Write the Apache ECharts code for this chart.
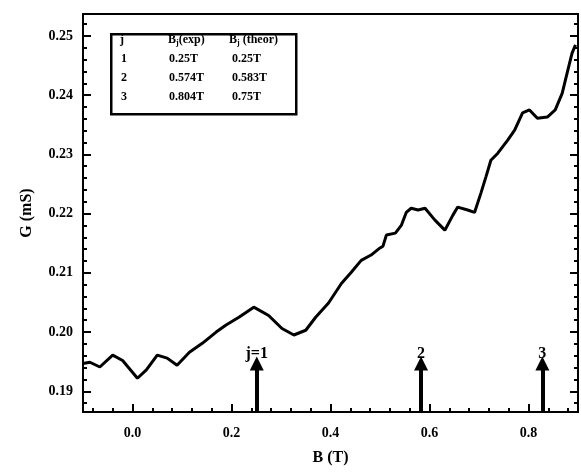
<!DOCTYPE html>
<html>
<head>
<meta charset="utf-8">
<script src="https://cdn.jsdelivr.net/npm/echarts@6/dist/echarts.min.js"></script>
<style>
  html, body { margin: 0; padding: 0; background: #fff; }
  #chart { width: 581px; height: 473px; }
</style>
</head>
<body>
<div id="chart"></div>
<script>
// traced curve: magnetic field B (T) and conductance G (mS)
const fieldB = [
  -0.100, -0.086, -0.066, -0.040, -0.020, 0.010, 0.028, 0.050, 0.070, 0.090,
  0.115, 0.141, 0.169, 0.189, 0.215, 0.245, 0.275, 0.302, 0.326, 0.350,
  0.370, 0.396, 0.422, 0.442, 0.462, 0.482, 0.500, 0.506, 0.513, 0.531,
  0.543, 0.553, 0.563, 0.577, 0.591, 0.611, 0.631, 0.647, 0.657, 0.677,
  0.691, 0.704, 0.714, 0.724, 0.738, 0.758, 0.772, 0.788, 0.802, 0.818,
  0.838, 0.854, 0.868, 0.878, 0.888, 0.895
];
const conductG = [
  0.1947, 0.1949, 0.1941, 0.1961, 0.1952, 0.1922, 0.1936, 0.1961, 0.1956, 0.1944,
  0.1966, 0.1981, 0.2000, 0.2012, 0.2025, 0.2042, 0.2028, 0.2006, 0.1995, 0.2003,
  0.2025, 0.2049, 0.2082, 0.2101, 0.2121, 0.2130, 0.2142, 0.2145, 0.2164, 0.2167,
  0.2180, 0.2202, 0.2209, 0.2206, 0.2209, 0.2189, 0.2172, 0.2197, 0.2211, 0.2206,
  0.2202, 0.2235, 0.2262, 0.2290, 0.2302, 0.2324, 0.2341, 0.2370, 0.2375, 0.2361,
  0.2363, 0.2375, 0.2403, 0.2437, 0.2471, 0.2485
];

// arrows marking B_j
const arrowB = [0.251, 0.583, 0.828];
const arrowLabels = ['j=1', '2', '3'];
const arrowTipG = 0.1947;

// axis ticks
const xMajor = [0.0, 0.2, 0.4, 0.6, 0.8];
const xMinor = [-0.08, -0.04, 0.04, 0.08, 0.12, 0.16, 0.24, 0.28, 0.32, 0.36,
  0.44, 0.48, 0.52, 0.56, 0.64, 0.68, 0.72, 0.76, 0.84, 0.88];
const yMajor = [0.19, 0.20, 0.21, 0.22, 0.23, 0.24, 0.25];
const yMinor = [0.188, 0.192, 0.194, 0.196, 0.198, 0.202, 0.204, 0.206, 0.208,
  0.212, 0.214, 0.216, 0.218, 0.222, 0.224, 0.226, 0.228, 0.232, 0.234, 0.236,
  0.238, 0.242, 0.244, 0.246, 0.248, 0.252];

// inset table
const tableJ = ['1', '2', '3'];
const tableExp = ['0.25T', '0.574T', '0.804T'];
const tableTheor = ['0.25T', '0.583T', '0.75T'];

const X_MIN = -0.1, X_MAX = 0.9;
const Y_MIN = 0.1865, Y_MAX = 0.2537;
const FONT = 'Liberation Serif';

const chart = echarts.init(document.getElementById('chart'));

const tickAxis = (type, pos, values, len, labels) => ({
  type: 'value',
  position: pos,
  min: type === 'x' ? X_MIN : Y_MIN,
  max: type === 'x' ? X_MAX : Y_MAX,
  axisLine: { show: labels, onZero: false, lineStyle: { color: '#000', width: 2 } },
  axisTick: { show: true, inside: true, length: len, customValues: values,
    lineStyle: { color: '#000', width: 2 } },
  axisLabel: labels ? {
    show: true,
    customValues: values,
    color: '#000',
    fontFamily: FONT,
    fontWeight: 'bold',
    fontSize: 14,
    margin: type === 'x' ? 14 : 10,
    formatter: v => type === 'x' ? v.toFixed(1) : v.toFixed(2)
  } : { show: false },
  splitLine: { show: false }
});

const xMain = tickAxis('x', 'bottom', xMajor, 8, true);
xMain.name = 'B (T)';
xMain.nameLocation = 'middle';
xMain.nameGap = 38;
xMain.nameTextStyle = { fontFamily: FONT, fontWeight: 'bold', fontSize: 16, color: '#000' };

const yMain = tickAxis('y', 'left', yMajor, 8, true);
yMain.name = 'G (mS)';
yMain.nameLocation = 'middle';
yMain.nameGap = 48;
yMain.nameTextStyle = { fontFamily: FONT, fontWeight: 'bold', fontSize: 16, color: '#000' };

const headerRich = {
  b: { fontFamily: FONT, fontWeight: 'bold', fontSize: 12, color: '#000' },
  s: { fontFamily: FONT, fontWeight: 'bold', fontSize: 8, color: '#000', verticalAlign: 'bottom', padding: [6, 0, 0, 0] }
};
const cellStyle = { fontFamily: FONT, fontWeight: 'bold', fontSize: 12, fill: '#000' };

const tableGraphics = [
  { type: 'rect', left: 110, top: 33, shape: { width: 185, height: 80 },
    style: { fill: '#fff', stroke: '#000', lineWidth: 2.5 }, z: 10 },
  { type: 'text', left: 120, top: 34, z: 11, style: Object.assign({ text: 'j' }, cellStyle) },
  { type: 'text', left: 168, top: 34, z: 11,
    style: { text: '{b|B}{s|j}{b|(exp)}', rich: headerRich } },
  { type: 'text', left: 229, top: 34, z: 11,
    style: { text: '{b|B}{s|j}{b| (theor)}', rich: headerRich } }
];
tableJ.forEach((j, i) => {
  const top = 53 + i * 19;
  tableGraphics.push({ type: 'text', left: 121, top: top, z: 11, style: Object.assign({ text: j }, cellStyle) });
  tableGraphics.push({ type: 'text', left: 169, top: top, z: 11, style: Object.assign({ text: tableExp[i] }, cellStyle) });
  tableGraphics.push({ type: 'text', left: 232, top: top, z: 11, style: Object.assign({ text: tableTheor[i] }, cellStyle) });
});

const option = {
  backgroundColor: '#fff',
  animation: false,
  grid: {
    left: 83, right: 3, top: 14, bottom: 61,
    show: true, borderColor: '#000', borderWidth: 2, backgroundColor: 'transparent'
  },
  xAxis: [
    xMain,
    tickAxis('x', 'bottom', xMinor, 4, false)
  ],
  yAxis: [
    yMain,
    tickAxis('y', 'left', yMinor, 4, false),
    tickAxis('y', 'right', yMajor, 8, false),
    tickAxis('y', 'right', yMinor, 4, false)
  ],
  graphic: tableGraphics,
  series: [
    {
      type: 'line',
      xAxisIndex: 0,
      yAxisIndex: 0,
      data: fieldB.map((b, i) => [b, conductG[i]]),
      showSymbol: false,
      lineStyle: { color: '#000', width: 3 },
      markLine: {
        silent: true,
        symbol: ['none', 'triangle'],
        symbolSize: [14, 14],
        lineStyle: { color: '#000', width: 4, type: 'solid' },
        label: {
          show: true,
          position: 'end',
          distance: 2,
          color: '#000',
          fontFamily: FONT,
          fontWeight: 'bold',
          fontSize: 16,
          formatter: p => p.data.name || p.name
        },
        data: arrowB.map((b, i) => [
          { coord: [b, Y_MIN], name: arrowLabels[i] },
          { coord: [b, arrowTipG] }
        ])
      }
    }
  ]
};

chart.setOption(option);
</script>
</body>
</html>
